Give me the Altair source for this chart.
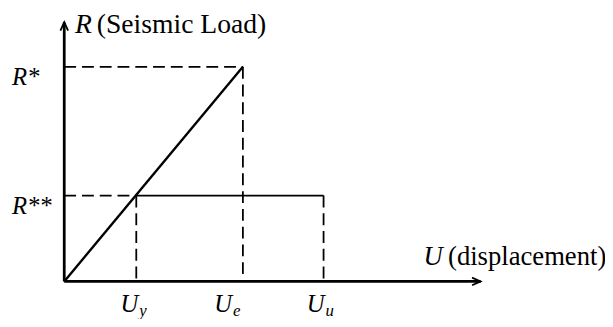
import altair as alt
import pandas as pd

# ---- values (abstract units) ----
u_subs = ["y", "e", "u"]            # U_y, U_e, U_u
u_values = [1.0, 2.48, 3.60]
r_names = ["R*", "R**"]
r_values = [2.5, 1.0]               # R*, R**
x_axis_end = 5.78
y_axis_end = 3.02

Uy, Ue, Uu = u_values
Rs, Rss = r_values

FONT = "Liberation Serif"
xs = alt.Scale(domain=[-0.7808, 7.5068], nice=False, zero=False)
ys = alt.Scale(domain=[-0.4138, 3.1609], nice=False, zero=False)


def rules(rows, width, dash=None):
    df = pd.DataFrame(rows, columns=["x", "y", "x2", "y2"])
    kw = dict(color="black", strokeWidth=width, strokeCap="butt")
    if dash:
        kw["strokeDash"] = dash
    return alt.Chart(df).mark_rule(**kw).encode(
        x=alt.X("x:Q", scale=xs, axis=None),
        y=alt.Y("y:Q", scale=ys, axis=None),
        x2="x2:Q",
        y2="y2:Q",
    )


def text(label, x, y, dx, dy, size, italic=False):
    df = pd.DataFrame({"x": [x], "y": [y], "t": [label]})
    return alt.Chart(df).mark_text(
        align="left", baseline="alphabetic", dx=dx, dy=dy,
        font=FONT, fontSize=size, fontStyle="italic" if italic else "normal",
        color="black",
    ).encode(
        x=alt.X("x:Q", scale=xs, axis=None),
        y=alt.Y("y:Q", scale=ys, axis=None),
        text="t:N",
    )


def arrow(x, y, shape):
    df = pd.DataFrame({"x": [x], "y": [y]})
    return alt.Chart(df).mark_point(
        shape=shape, size=300, filled=False, color="black",
        strokeWidth=1.8, opacity=1,
    ).encode(
        x=alt.X("x:Q", scale=xs, axis=None),
        y=alt.Y("y:Q", scale=ys, axis=None),
    )


layers = []
# axes
layers.append(rules([[0, 0, x_axis_end, 0], [0, 0, 0, y_axis_end]], 2.8))
layers.append(arrow(x_axis_end, 0, "M-1,-0.45L0,0L-1,0.45"))
layers.append(arrow(0, y_axis_end, "M-0.45,1L0,0L0.45,1"))
# elastic branch
layers.append(rules([[0, 0, Ue, Rs]], 2.4))
# plastic plateau
layers.append(rules([[Uy, Rss, Uu, Rss]], 1.8))
# dashed guides
layers.append(rules([
    [0, Rs, Ue, Rs], [Ue, Rs, Ue, 0],
    [0, Rss, Uy, Rss], [Uy, Rss, Uy, 0],
    [Uu, Rss, Uu, 0],
], 1.8, dash=[12, 6]))

# R labels
for name, v, dy in zip(r_names, r_values, [18, 19]):
    layers.append(text(name, 0, v, -53, dy, 25, italic=True))

# U labels with subscripts
u_dx = [-16, -29, -17]
for sub, v, dx in zip(u_subs, u_values, u_dx):
    layers.append(text("U", v, 0, dx, 31, 25, italic=True))
    layers.append(text(sub, v, 0, dx + 19, 35, 17, italic=True))

# axis titles
layers.append(text("R", 0, y_axis_end, 11, 11, 28, italic=True))
layers.append(text("(Seismic Load)", 0, y_axis_end, 33, 11, 28))
layers.append(text("U", x_axis_end, 0, -58, -17, 27, italic=True))
layers.append(text("(displacement)", x_axis_end, 0, -33, -17, 27))

chart = alt.layer(*layers).properties(
    width=605, height=311,
    autosize=alt.AutoSizeParams(type="none"),
    padding=0,
).configure_view(stroke=None)

chart.save("out.html", embed_options={"renderer": "svg", "actions": False})
